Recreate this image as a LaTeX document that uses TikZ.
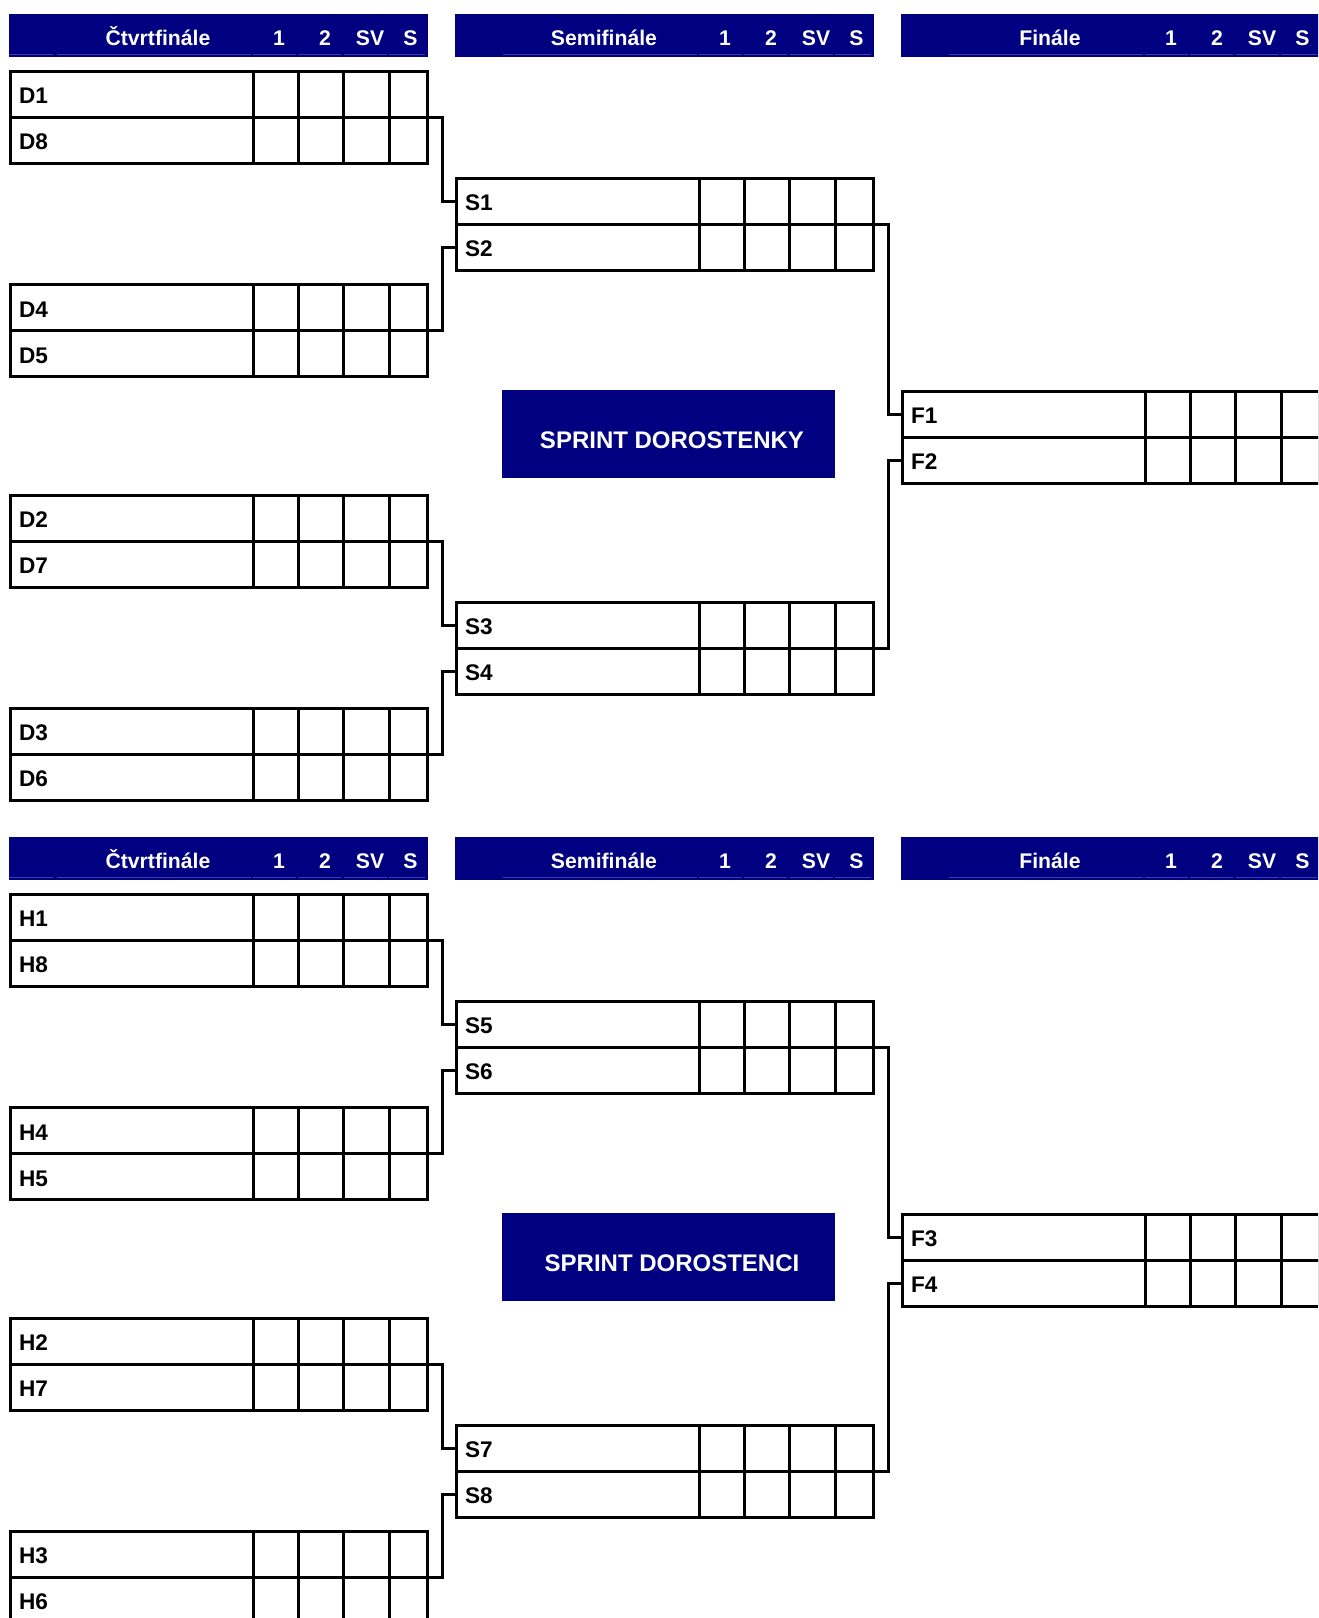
\documentclass[tikz,border=0pt]{standalone}
\usepackage{fontspec}
\setmainfont{Liberation Sans}

\definecolor{navy}{RGB}{0,0,128}
\definecolor{navylight}{RGB}{60,60,170}

\tikzset{
    hlava/.style={fill=navy, anchor=north west, minimum width=209.5pt, minimum height=21.5pt, inner sep=0pt, outer sep=0pt},
    popis/.style={text=white, font=\bfseries\fontsize{10.6}{12}\selectfont, text height=7.6pt, text depth=0pt, inner sep=0pt},
    radek/.style={draw, line width=1.5pt, inner xsep=4.5pt, inner ysep=0pt, outer sep=0pt,
        minimum height=23pt, text width=199.5pt, align=left, text height=9.8pt, text depth=0pt,
        font=\bfseries\fontsize{11.3}{13}\selectfont},
    cara/.style={line width=1.5pt},
    spoj/.style={line width=1.5pt},
    svetla/.style={draw=navylight, line width=0.5pt},
    titul/.style={fill=navy, minimum width=166.5pt, minimum height=44pt, inner sep=0pt},
    titulek/.style={text=white, font=\bfseries\fontsize{12}{14}\selectfont, inner sep=0pt}
}

\begin{document}
\begin{tikzpicture}[x=0.5pt,y=-0.5pt]

\useasboundingbox (0,0) rectangle (1318,1618);
\clip (0,0) rectangle (1318,1618);

% ===== Headers =====
\foreach \hx/\nazev in {9/Čtvrtfinále, 455/Semifinále, 901/Finále} {
    \foreach \dy in {0,823} {
        \node[hlava] (h\hx-\dy) at (\hx,14+\dy) {};
        \draw[svetla] (\hx+48,54+\dy) -- (\hx+242,54+\dy);
        \foreach \a/\b in {244/287, 289/332, 335/378, 380/416}
            \draw[svetla] (\hx+\a,54+\dy) -- (\hx+\b,54+\dy);
        \node[popis] (n\hx-\dy) at (\hx+149,38+\dy) {\nazev};
        \foreach \t/\o in {1/270, 2/316, SV/361, S/401.5}
            \node[popis] (c\t-\hx-\dy) at (\hx+\o,38+\dy) {\t};
    }
}
\draw[svetla] (9,54) -- (53,54);
\draw[svetla] (9,877) -- (53,877);

% ===== Boxes (two rows each) =====
\foreach \a/\b/\x/\y in {D1/D8/10/117, D4/D5/10/330.5, D2/D7/10/541, D3/D6/10/754,
                         H1/H8/10/940, H4/H5/10/1153.5, H2/H7/10/1364, H3/H6/10/1577,
                         S1/S2/456/224, S3/S4/456/648, S5/S6/456/1047, S7/S8/456/1471,
                         F1/F2/902/437, F3/F4/902/1260} {
    \node[radek, anchor=south west] (\a) at (\x,\y) {\a};
    \node[radek, anchor=north west] (\b) at (\x,\y) {\b};
    \foreach \c in {243,288,333,379}
        \draw[cara] (\a.north west) ++(\c,0) -- ++(0,92);
}

% ===== Connectors =====
\foreach \a/\b/\c/\d in {D8/D4/S1/S2, D7/D3/S3/S4, H8/H4/S5/S6, H7/H3/S7/S8,
                         S2/S3/F1/F2, S6/S7/F3/F4} {
    \draw[spoj] (\a.north east) -- ++(15,0) |- (\c.west);
    \draw[spoj] (\b.south east) -- ++(15,0) |- (\d.west);
}

% ===== Titles =====
\node[titul] (titul1) at (668,434) {};
\node[titulek] (nadpis1) at (672,440) {SPRINT DOROSTENKY};

\node[titul] (titul2) at (668,1257) {};
\node[titulek] (nadpis2) at (672,1263) {SPRINT DOROSTENCI};

\end{tikzpicture}
\end{document}
